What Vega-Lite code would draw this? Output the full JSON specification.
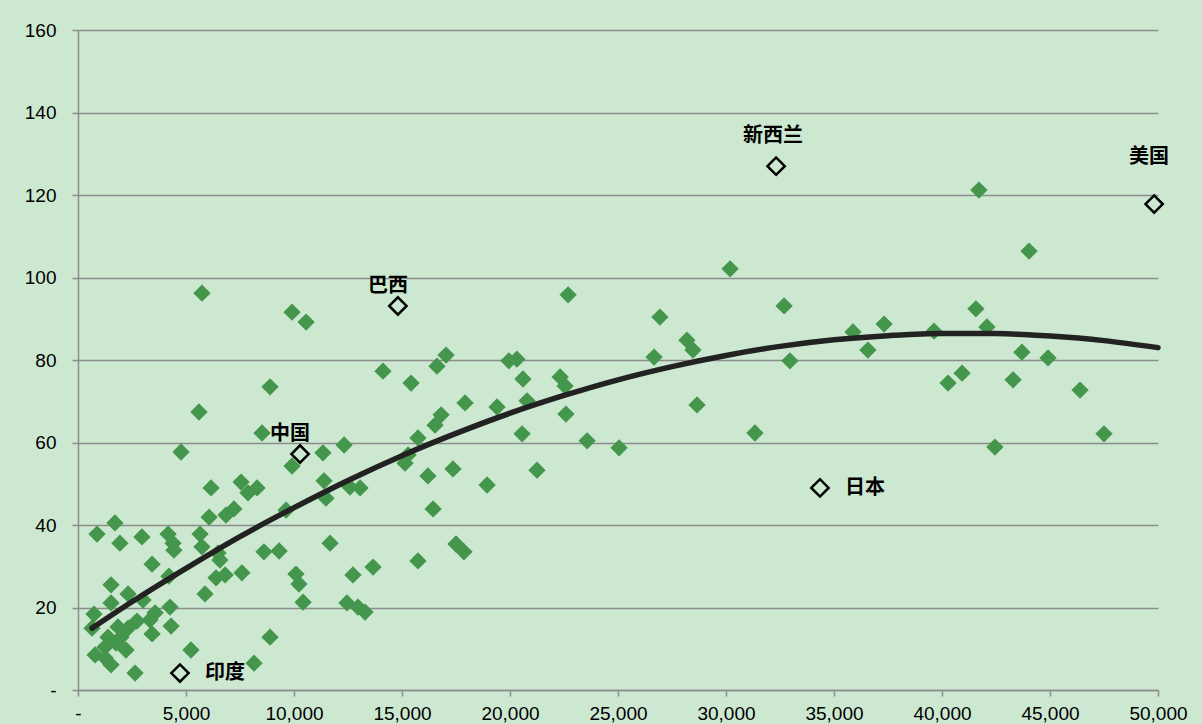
{
  "$schema": "https://vega.github.io/schema/vega-lite/v6.json",
  "width": 1080,
  "height": 660,
  "autosize": {"type": "none"},
  "padding": {"left": 78, "top": 30, "right": 44, "bottom": 34},
  "background": "#CDE8D1",
  "config": {
    "view": {"stroke": null},
    "axis": {
      "title": null,
      "labelFont": "Liberation Sans",
      "labelFontSize": 19,
      "labelColor": "#000000",
      "domainColor": "#8C8C8C",
      "domainWidth": 1.5,
      "tickColor": "#8C8C8C",
      "tickWidth": 1.5,
      "tickSize": 6,
      "labelFlush": false,
      "labelOverlap": false
    }
  },
  "datasets": {
    "pts": [
      {"gdp": 880, "val": 37.8}, {"gdp": 1710, "val": 40.5}, {"gdp": 1940, "val": 35.6}, {"gdp": 2960, "val": 37.1},
      {"gdp": 4170, "val": 37.8}, {"gdp": 4400, "val": 35.6}, {"gdp": 4440, "val": 33.9}, {"gdp": 5650, "val": 37.8},
      {"gdp": 5740, "val": 34.7}, {"gdp": 3430, "val": 30.5}, {"gdp": 4210, "val": 27.6}, {"gdp": 1530, "val": 25.5},
      {"gdp": 2320, "val": 23.3}, {"gdp": 1530, "val": 21.1}, {"gdp": 3010, "val": 21.8}, {"gdp": 4260, "val": 20.1},
      {"gdp": 3570, "val": 18.7}, {"gdp": 740, "val": 18.4}, {"gdp": 2730, "val": 16.7}, {"gdp": 3330, "val": 17.0},
      {"gdp": 4310, "val": 15.5}, {"gdp": 650, "val": 15.0}, {"gdp": 1850, "val": 15.3}, {"gdp": 3430, "val": 13.6},
      {"gdp": 1390, "val": 12.8}, {"gdp": 1990, "val": 12.8}, {"gdp": 2320, "val": 15.0}, {"gdp": 1250, "val": 10.4},
      {"gdp": 2220, "val": 9.7}, {"gdp": 1760, "val": 11.4}, {"gdp": 5230, "val": 9.7}, {"gdp": 790, "val": 8.5},
      {"gdp": 1250, "val": 7.8}, {"gdp": 1530, "val": 6.1}, {"gdp": 2640, "val": 4.1}, {"gdp": 5880, "val": 23.3},
      {"gdp": 6390, "val": 27.2}, {"gdp": 6810, "val": 27.9}, {"gdp": 7590, "val": 28.4}, {"gdp": 6570, "val": 31.5},
      {"gdp": 6480, "val": 33.2}, {"gdp": 8150, "val": 6.5}, {"gdp": 8890, "val": 12.8}, {"gdp": 8610, "val": 33.5},
      {"gdp": 9310, "val": 33.7}, {"gdp": 4770, "val": 57.7}, {"gdp": 5600, "val": 67.4}, {"gdp": 5740, "val": 96.2},
      {"gdp": 6070, "val": 41.9}, {"gdp": 6850, "val": 42.4}, {"gdp": 7220, "val": 43.9}, {"gdp": 6160, "val": 49.0},
      {"gdp": 7550, "val": 50.4}, {"gdp": 7870, "val": 47.8}, {"gdp": 8290, "val": 49.0}, {"gdp": 8520, "val": 62.3},
      {"gdp": 8890, "val": 73.5}, {"gdp": 9630, "val": 43.6}, {"gdp": 9910, "val": 54.3}, {"gdp": 9910, "val": 91.6},
      {"gdp": 10560, "val": 89.2}, {"gdp": 11340, "val": 57.5}, {"gdp": 12320, "val": 59.4}, {"gdp": 11390, "val": 50.7},
      {"gdp": 11480, "val": 46.5}, {"gdp": 12590, "val": 49.2}, {"gdp": 13060, "val": 49.0}, {"gdp": 11670, "val": 35.6},
      {"gdp": 10090, "val": 28.1}, {"gdp": 10230, "val": 25.7}, {"gdp": 10420, "val": 21.3}, {"gdp": 12730, "val": 27.9},
      {"gdp": 13660, "val": 29.8}, {"gdp": 12450, "val": 21.1}, {"gdp": 12960, "val": 20.1}, {"gdp": 13290, "val": 18.9},
      {"gdp": 14120, "val": 77.3}, {"gdp": 15140, "val": 55.0}, {"gdp": 15280, "val": 57.0}, {"gdp": 15420, "val": 74.4},
      {"gdp": 15740, "val": 61.1}, {"gdp": 15740, "val": 31.3}, {"gdp": 16200, "val": 51.9}, {"gdp": 16440, "val": 43.9},
      {"gdp": 16530, "val": 64.2}, {"gdp": 16810, "val": 66.7}, {"gdp": 16620, "val": 78.5}, {"gdp": 17040, "val": 81.2},
      {"gdp": 17360, "val": 53.6}, {"gdp": 17500, "val": 35.4}, {"gdp": 17870, "val": 33.5}, {"gdp": 17920, "val": 69.6},
      {"gdp": 18940, "val": 49.7}, {"gdp": 19400, "val": 68.6}, {"gdp": 19950, "val": 79.8}, {"gdp": 20320, "val": 80.2},
      {"gdp": 20600, "val": 75.4}, {"gdp": 20790, "val": 70.1}, {"gdp": 20560, "val": 62.1}, {"gdp": 21250, "val": 53.3},
      {"gdp": 22320, "val": 75.9}, {"gdp": 22550, "val": 73.7}, {"gdp": 22690, "val": 95.8}, {"gdp": 22590, "val": 66.9},
      {"gdp": 23570, "val": 60.4}, {"gdp": 25050, "val": 58.7}, {"gdp": 26670, "val": 80.7}, {"gdp": 26940, "val": 90.4},
      {"gdp": 28190, "val": 84.8}, {"gdp": 28470, "val": 82.4}, {"gdp": 28660, "val": 69.1}, {"gdp": 30190, "val": 102.1},
      {"gdp": 31340, "val": 62.3}, {"gdp": 32690, "val": 93.1}, {"gdp": 32960, "val": 79.8}, {"gdp": 35880, "val": 86.8},
      {"gdp": 36570, "val": 82.4}, {"gdp": 37320, "val": 88.7}, {"gdp": 39630, "val": 87.0}, {"gdp": 40280, "val": 74.4},
      {"gdp": 40930, "val": 76.8}, {"gdp": 41710, "val": 121.2}, {"gdp": 41570, "val": 92.4}, {"gdp": 42080, "val": 88.0},
      {"gdp": 42450, "val": 58.9}, {"gdp": 43290, "val": 75.2}, {"gdp": 43700, "val": 81.9}, {"gdp": 44030, "val": 106.4},
      {"gdp": 44910, "val": 80.5}, {"gdp": 46390, "val": 72.7}, {"gdp": 47500, "val": 62.1}
    ],
    "curve": [
      {"gdp": 650, "val": 15.0}, {"gdp": 2500, "val": 21.4}, {"gdp": 5000, "val": 29.5}, {"gdp": 7500, "val": 37.2},
      {"gdp": 10000, "val": 44.2}, {"gdp": 12500, "val": 50.8}, {"gdp": 15000, "val": 56.8}, {"gdp": 17500, "val": 62.2},
      {"gdp": 20000, "val": 67.1}, {"gdp": 22500, "val": 71.4}, {"gdp": 25000, "val": 75.2}, {"gdp": 27500, "val": 78.4},
      {"gdp": 30000, "val": 81.1}, {"gdp": 32500, "val": 83.3}, {"gdp": 35000, "val": 84.9}, {"gdp": 37500, "val": 85.9},
      {"gdp": 40000, "val": 86.45}, {"gdp": 42500, "val": 86.4}, {"gdp": 45000, "val": 85.8}, {"gdp": 47500, "val": 84.7},
      {"gdp": 50000, "val": 83.0}
    ],
    "labeled": [
      {"name": "印度", "gdp": 4720, "val": 4.1},
      {"name": "中国", "gdp": 10280, "val": 57.2},
      {"name": "巴西", "gdp": 14810, "val": 93.1},
      {"name": "新西兰", "gdp": 32320, "val": 127.0},
      {"name": "日本", "gdp": 34350, "val": 49.0},
      {"name": "美国", "gdp": 49820, "val": 117.8}
    ]
  },
  "layer": [
    {
      "data": {"name": "pts"},
      "mark": {"type": "point", "shape": "diamond", "filled": true, "color": "#43964B", "opacity": 1, "size": 300},
      "encoding": {
        "x": {
          "field": "gdp", "type": "quantitative",
          "scale": {"domain": [0, 50000], "nice": false, "zero": true},
          "axis": {
            "values": [0, 5000, 10000, 15000, 20000, 25000, 30000, 35000, 40000, 45000, 50000],
            "format": ",d",
            "labelExpr": "datum.value == 0 ? '-' : datum.label",
            "grid": false,
            "labelPadding": 8
          }
        },
        "y": {
          "field": "val", "type": "quantitative",
          "scale": {"domain": [0, 160], "nice": false},
          "axis": {
            "values": [0, 20, 40, 60, 80, 100, 120, 140, 160],
            "labelExpr": "datum.value == 0 ? '-' : datum.label",
            "grid": true,
            "gridColor": "#8C8C8C",
            "gridWidth": 1.5,
            "labelPadding": 16
          }
        }
      }
    },
    {
      "data": {"name": "curve"},
      "mark": {"type": "line", "color": "#222222", "strokeWidth": 5.5, "interpolate": "monotone", "strokeCap": "round"},
      "encoding": {
        "x": {"field": "gdp", "type": "quantitative"},
        "y": {"field": "val", "type": "quantitative"}
      }
    },
    {
      "data": {"name": "labeled"},
      "mark": {"type": "point", "shape": "diamond", "filled": false, "stroke": "#000000", "strokeWidth": 2.5, "opacity": 1, "size": 300},
      "encoding": {
        "x": {"field": "gdp", "type": "quantitative"},
        "y": {"field": "val", "type": "quantitative"}
      }
    },
    {
      "data": {"name": "labeled"},
      "transform": [{"filter": "datum.name == '印度' || datum.name == '日本'"}],
      "mark": {"type": "text", "align": "left", "baseline": "middle", "dx": 25, "dy": 0, "font": "Noto Sans CJK SC", "fontWeight": "bold", "fontSize": 20, "color": "#000000"},
      "encoding": {
        "x": {"field": "gdp", "type": "quantitative"},
        "y": {"field": "val", "type": "quantitative"},
        "text": {"field": "name"}
      }
    },
    {
      "data": {"name": "labeled"},
      "transform": [{"filter": "datum.name == '中国' || datum.name == '巴西'"}],
      "mark": {"type": "text", "align": "center", "baseline": "middle", "dx": -10, "dy": -20, "font": "Noto Sans CJK SC", "fontWeight": "bold", "fontSize": 20, "color": "#000000"},
      "encoding": {
        "x": {"field": "gdp", "type": "quantitative"},
        "y": {"field": "val", "type": "quantitative"},
        "text": {"field": "name"}
      }
    },
    {
      "data": {"name": "labeled"},
      "transform": [{"filter": "datum.name == '新西兰'"}],
      "mark": {"type": "text", "align": "center", "baseline": "middle", "dx": -3, "dy": -30, "font": "Noto Sans CJK SC", "fontWeight": "bold", "fontSize": 20, "color": "#000000"},
      "encoding": {
        "x": {"field": "gdp", "type": "quantitative"},
        "y": {"field": "val", "type": "quantitative"},
        "text": {"field": "name"}
      }
    },
    {
      "data": {"name": "labeled"},
      "transform": [{"filter": "datum.name == '美国'"}],
      "mark": {"type": "text", "align": "center", "baseline": "middle", "dx": -5, "dy": -47, "font": "Noto Sans CJK SC", "fontWeight": "bold", "fontSize": 20, "color": "#000000"},
      "encoding": {
        "x": {"field": "gdp", "type": "quantitative"},
        "y": {"field": "val", "type": "quantitative"},
        "text": {"field": "name"}
      }
    }
  ]
}
